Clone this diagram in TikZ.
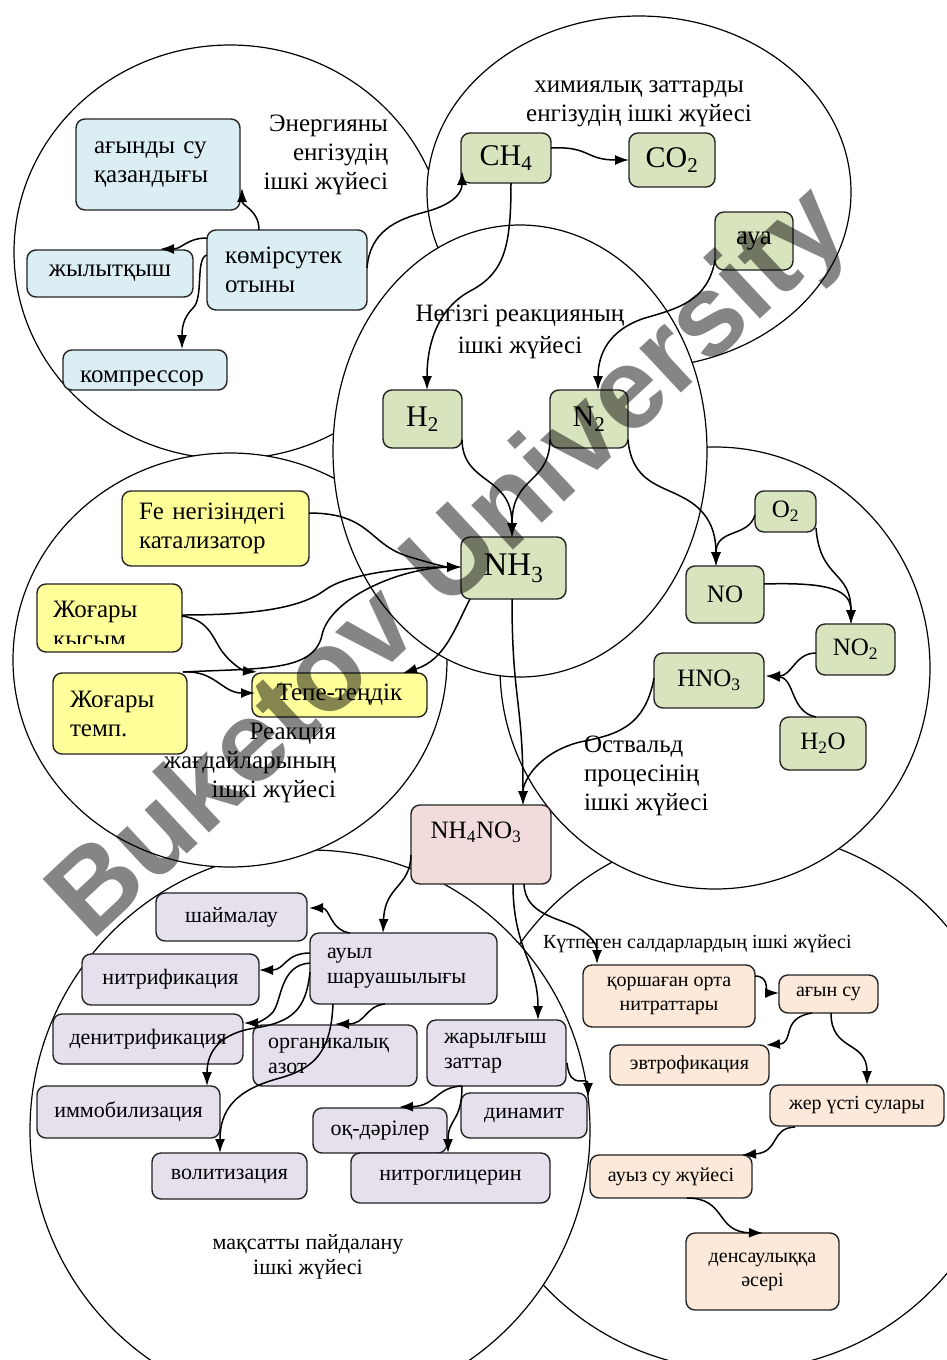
\documentclass[tikz,border=0pt]{standalone}
\usepackage{fontspec}
\setmainfont{Liberation Serif}
\newfontfamily\wmfont{Liberation Sans}
\usetikzlibrary{arrows.meta,calc}
\definecolor{blueF}{RGB}{219,238,244}
\definecolor{greenF}{RGB}{215,228,189}
\definecolor{yellowF}{RGB}{255,255,153}
\definecolor{pinkF}{RGB}{242,220,219}
\definecolor{purpF}{RGB}{229,224,236}
\definecolor{orangeF}{RGB}{253,233,217}
\definecolor{bcol}{RGB}{35,35,35}
\begin{document}
\begin{tikzpicture}[x=1pt,y=-1pt,
  bx/.style={draw=bcol, line width=1.4pt, rounded corners=9pt, outer sep=0pt, inner sep=0pt, align=center},
  fA/.style={font=\fontsize{25}{29}\selectfont},
  fC/.style={font=\fontsize{30}{34}\selectfont},
  fB/.style={font=\fontsize{22}{25}\selectfont},
  fS/.style={font=\fontsize{20}{24}\selectfont},
  arr/.style={-{Latex[length=14pt,width=10pt]}, line width=1.5pt},
  circ/.style={draw=black, fill=white, line width=1.2pt},
  lbl/.style={inner sep=0pt, outer sep=0pt}]
\useasboundingbox (0,0) rectangle (946,1360);
\fill[white] (0,0) rectangle (946,1360);
% ---------- circles (stacking order) ----------
\path[circ] (740,1100) circle [radius=270];
\path[circ] (310,1130) circle [radius=280];
\path[circ] (715,668) ellipse [x radius=215, y radius=221];
\path[circ] (230,252) ellipse [x radius=216, y radius=207];
\path[circ] (230,660) ellipse [x radius=217, y radius=207];
\path[circ] (639,192) ellipse [x radius=212, y radius=176];
\path[circ] (520,451) ellipse [x radius=187, y radius=226];
% ---------- energy subsystem ----------
\node[bx,fill=blueF,fA,minimum width=164pt,minimum height=91pt,align=left,text width=128pt] (agyn) at (158,164.5) {ағынды~су\\қазандығы};
\node[bx,fill=blueF,fA,minimum width=166pt,minimum height=47pt] (zhyl) at (110,273.5) {жылытқыш};
\node[bx,fill=blueF,fA,minimum width=160pt,minimum height=80pt,align=left,text width=124pt] (kom) at (287,270) {көмірсутек\\отыны};
\node[bx,fill=blueF,minimum width=164pt,minimum height=40pt] (kompr) at (145,370) {};
\begin{scope}
\clip ($(kompr.north west)+(1,1)$) rectangle ($(kompr.south east)+(-1,-5)$);
\node[fA,anchor=base,inner sep=0pt] (komprT) at ($(kompr.south)+(-3,-8)$) {компрессор};
\end{scope}
\node[lbl,fA,align=right,anchor=east] (L1) at (388,155) {Энергияны\\енгізудің\\ішкі жүйесі};
% ---------- chemicals subsystem ----------
\node[bx,fill=greenF,fC,minimum width=90pt,minimum height=50pt] (ch4) at (506,158) {CH\textsubscript{4}};
\node[bx,fill=greenF,fC,minimum width=86pt,minimum height=54pt] (co2) at (672,160) {CO\textsubscript{2}};
\node[bx,fill=greenF,font=\fontsize{27}{30}\selectfont,minimum width=78pt,minimum height=58pt] (aya) at (754,241) {ауа};
\node[lbl,fA,align=center] (L2) at (639,104) {химиялық заттарды\\енгізудің ішкі жүйесі};
% ---------- main reaction ----------
\node[bx,fill=greenF,fC,minimum width=79pt,minimum height=58pt] (h2) at (422.5,419) {H\textsubscript{2}};
\node[bx,fill=greenF,fC,minimum width=78pt,minimum height=58pt] (n2) at (589,419) {N\textsubscript{2}};
\node[bx,fill=greenF,font=\fontsize{33}{36}\selectfont,minimum width=105pt,minimum height=62pt] (nh3) at (513.5,568) {NH\textsubscript{3}};
\node[lbl,font=\fontsize{25}{32}\selectfont,align=center] (L3) at (520,332) {Негізгі реакцияның\\ішкі жүйесі};
% ---------- Ostwald ----------
\node[bx,fill=greenF,fA,minimum width=61pt,minimum height=41pt] (o2) at (785.5,511.5) {O\textsubscript{2}};
\node[bx,fill=greenF,fA,minimum width=78pt,minimum height=57pt] (no) at (725,594.5) {NO};
\node[bx,fill=greenF,fA,minimum width=79pt,minimum height=51pt] (no2) at (855.5,649.5) {NO\textsubscript{2}};
\node[bx,fill=greenF,fA,minimum width=110pt,minimum height=55pt] (hno3) at (709,680.5) {HNO\textsubscript{3}};
\node[bx,fill=greenF,fA,minimum width=86pt,minimum height=53pt] (h2o) at (823,743.5) {H\textsubscript{2}O};
\node[lbl,fA,align=left,anchor=west] (L5) at (584,776) {Оствальд\\процесінің\\ішкі жүйесі};
% ---------- reaction conditions ----------
\node[bx,fill=yellowF,fA,minimum width=187pt,minimum height=75pt,align=left,text width=153pt] (fe) at (215.5,528.5) {Fe~негізіндегі\\катализатор};
\node[bx,fill=yellowF,minimum width=145pt,minimum height=68pt] (kys) at (109.5,618) {};
\begin{scope}
\clip ($(kys.north west)+(1,1)$) rectangle ($(kys.south east)+(-1,-9)$);
\node[fA,align=left,anchor=north west,inner sep=0pt,font=\fontsize{25}{30}\selectfont] (kysT) at ($(kys.north west)+(16,17)$) {Жоғары\\қысым};
\end{scope}
\node[bx,fill=yellowF,fA,minimum width=134pt,minimum height=81pt,align=left,text width=100pt] (temp) at (120,713.5) {Жоғары\\темп.};
\node[bx,fill=yellowF,fA,minimum width=175pt,minimum height=44pt] (tepe) at (339.5,695) {Тепе-теңдік};
\node[lbl,fA,align=right,anchor=east] (L4) at (336,763) {Реакция\\жағдайларының\\ішкі жүйесі};
% ---------- NH4NO3 ----------
\node[bx,fill=pinkF,minimum width=140pt,minimum height=79pt] (nh4no3) at (481,844.5) {};
\node[lbl,fA] (nh4no3T) at (476,832) {NH\textsubscript{4}NO\textsubscript{3}};
% ---------- target use ----------
\node[bx,fill=purpF,fB,minimum width=151pt,minimum height=48pt] (shay) at (231.5,917) {шаймалау};
\node[bx,fill=purpF,fB,minimum width=187pt,minimum height=71pt,align=left,text width=153pt] (auyl) at (403.5,968.5) {ауыл\\шаруашылығы};
\node[bx,fill=purpF,fB,minimum width=177pt,minimum height=51pt] (nitr) at (170.5,979.5) {нитрификация};
\node[bx,fill=purpF,fB,minimum width=190pt,minimum height=50pt] (denitr) at (148,1039) {денитрификация};
\node[bx,fill=purpF,fB,minimum width=164pt,minimum height=61pt,align=left,text width=134pt] (organ) at (335,1055.5) {органикалық\\азот};
\node[bx,fill=purpF,fB,minimum width=139pt,minimum height=66pt,align=left,text width=105pt] (zhar) at (496.5,1053) {жарылғыш\\заттар};
\node[bx,fill=purpF,fB,minimum width=183pt,minimum height=52pt] (immob) at (128.5,1112) {иммобилизация};
\node[bx,fill=purpF,fB,minimum width=134pt,minimum height=45pt] (ok) at (380,1130.5) {оқ-дәрілер};
\node[bx,fill=purpF,fB,minimum width=126pt,minimum height=45pt] (dyn) at (524,1115.5) {динамит};
\node[bx,fill=purpF,fB,minimum width=155pt,minimum height=46pt] (vol) at (229.5,1176) {волитизация};
\node[bx,fill=purpF,fB,minimum width=199pt,minimum height=50pt] (nitrogl) at (450.5,1178) {нитроглицерин};
\node[lbl,fB,align=center] (L6) at (308,1257) {мақсатты пайдалану\\ішкі жүйесі};
% ---------- unexpected consequences ----------
\node[bx,fill=orangeF,fS,minimum width=172pt,minimum height=62pt] (korsh) at (669,996) {қоршаған орта\\нитраттары};
\node[bx,fill=orangeF,fS,minimum width=99pt,minimum height=38pt] (agyn2) at (828.5,994) {ағын су};
\node[bx,fill=orangeF,fS,minimum width=159pt,minimum height=40pt] (evtr) at (689.5,1065) {эвтрофикация};
\node[bx,fill=orangeF,fS,minimum width=174pt,minimum height=41pt] (zher) at (857,1105.5) {жер үсті сулары};
\node[bx,fill=orangeF,fS,minimum width=162pt,minimum height=43pt] (auyz) at (671,1176.5) {ауыз су жүйесі};
\node[bx,fill=orangeF,fS,minimum width=153pt,minimum height=77pt] (dens) at (762.5,1271.5) {денсаулыққа\\әсері};
\node[lbl,fS,anchor=west] (L7) at (543,944) {Күтпеген салдарлардың ішкі жүйесі};
% ---------- connectors ----------
\draw[arr] ($(kom.north west)+(52,0)$) .. controls (259,210) and (242,206) .. ($(agyn.south east)+(2,-22)$);
\draw[arr] ($(kom.north west)+(0,8)$) .. controls (187,238) and (182,249) .. ($(zhyl.north east)+(-33,-1)$);
\draw[arr] ($(kom.north west)+(0,25)$) .. controls (195,258) and (204,298) .. (193,308) .. controls (183,318) and (182,328) .. ($(kompr.north west)+(119,-1)$);
\draw[arr] ($(kom.south east)+(0,-42)$) .. controls (370,232) and (395,220) .. (425,212) .. controls (455,204) and (462,192) .. ($(ch4.south west)+(1,-12)$);
\draw[arr] ($(ch4.north east)+(0,15)$) .. controls (590,146) and (585,160) .. (co2.west);
\draw[arr] ($(ch4.south west)+(50,0)$) .. controls (511,245) and (505,272) .. (472,290) .. controls (437,308) and (427,345) .. ($(h2.north west)+(44,0)$);
\draw[arr] ($(aya.south west)+(0,-10)$) .. controls (708,300) and (680,308) .. (645,318) .. controls (608,330) and (598,355) .. ($(n2.north west)+(48,0)$);
\draw[arr] ($(h2.south east)+(0,-8)$) .. controls (463,485) and (512,475) .. ($(nh3.north west)+(51,0)$);
\draw[arr] ($(n2.south west)+(0,-8)$) .. controls (549,485) and (512,475) .. ($(nh3.north west)+(51,0)$);
\draw[arr] ($(n2.south east)+(0,-8)$) .. controls (632,482) and (660,485) .. (682,497) .. controls (708,510) and (716,530) .. ($(no.north west)+(30,0)$);
\draw[arr] ($(o2.south west)+(0,-17)$) .. controls (748,538) and (716,528) .. ($(no.north west)+(30,0)$);
\draw[arr] ($(o2.south east)+(0,-4)$) .. controls (820,580) and (851,570) .. ($(no2.north west)+(35,0)$);
\draw[arr] ($(no.north east)+(0,18)$) .. controls (830,582) and (851,590) .. ($(no2.north west)+(35,0)$);
\draw[arr] ($(no2.north west)+(0,29)$) .. controls (795,653) and (792,676) .. ($(hno3.north east)+(2,23)$);
\draw[arr] ($(h2o.north west)+(36,0)$) .. controls (790,712) and (795,678) .. ($(hno3.north east)+(2,23)$);
\draw[arr] ($(hno3.north west)+(0,25)$) .. controls (645,728) and (615,735) .. (580,742) .. controls (540,752) and (523,780) .. ($(nh4no3.north west)+(112,0)$);
\draw[arr] ($(nh3.south west)+(51,0)$) .. controls (512,700) and (523,700) .. ($(nh4no3.north west)+(112,0)$);
\draw[arr] ($(fe.north east)+(0,22)$) .. controls (372,513) and (368,545) .. (410,557) .. controls (430,563) and (445,567) .. ($(nh3.south west)+(0,-32)$);
\draw[arr] ($(kys.north east)+(0,31)$) .. controls (260,615) and (302,607) .. (325,590) .. controls (345,575) and (400,567) .. ($(nh3.south west)+(0,-32)$);
\draw[arr] ($(kys.north east)+(0,32)$) .. controls (212,620) and (213,642) .. (225,655) .. controls (235,667) and (245,671) .. ($(tepe.north west)+(5,-1)$);
\draw[arr] ($(temp.north east)+(-4,-1)$) .. controls (262,668) and (314,672) .. (322,635) .. controls (330,598) and (400,568) .. ($(nh3.south west)+(0,-32)$);
\draw[arr] ($(temp.north east)+(-4,-1)$) .. controls (215,670) and (222,693) .. ($(tepe.north west)+(3,20)$);
\draw[arr] ($(nh3.south west)+(9,0)$) .. controls (455,628) and (445,660) .. ($(tepe.north east)+(-24,0)$);
\draw[arr] ($(nh4no3.south west)+(0,-29)$) .. controls (410,888) and (385,885) .. ($(auyl.north west)+(73,0)$);
\draw[arr] ($(auyl.north west)+(40,0)$) .. controls (330,930) and (330,908) .. ($(shay.north east)+(2,15)$);
\draw[arr] ($(auyl.north west)+(0,20)$) .. controls (285,953) and (285,970) .. ($(nitr.north east)+(0,16)$);
\draw[arr] ($(auyl.north west)+(0,30)$) .. controls (280,965) and (282,1000) .. (273,1012) .. controls (266,1020) and (256,1023) .. ($(denitr.north east)+(1,9)$);
\draw[arr] ($(auyl.north west)+(0,39)$) .. controls (306,1010) and (292,1022) .. (255,1028) .. controls (222,1033) and (207,1050) .. ($(immob.north east)+(-13,0)$);
\draw[arr] ($(auyl.south west)+(23,0)$) .. controls (331,1050) and (316,1068) .. (280,1078) .. controls (235,1090) and (220,1110) .. ($(vol.north west)+(68,0)$);
\draw[arr] ($(auyl.south west)+(75,0)$) .. controls (365,1006) and (366,1024) .. ($(organ.north west)+(82,-1)$);
\draw[arr] ($(nh4no3.south west)+(102,0)$) .. controls (513,950) and (538,962) .. ($(zhar.north east)+(-28,0)$);
\draw[arr] ($(nh4no3.south west)+(113,0)$) .. controls (525,915) and (560,918) .. (578,928) .. controls (592,936) and (597,945) .. ($(korsh.north west)+(14,-1)$);
\draw[arr] ($(zhar.south west)+(35,0)$) .. controls (436,1087) and (436,1106) .. ($(ok.north east)+(-48,-1)$);
\draw[arr] ($(zhar.south west)+(35,0)$) .. controls (462,1122) and (448,1118) .. ($(nitrogl.north west)+(97,0)$);
\draw[arr] ($(zhar.north east)+(1,43)$) .. controls (570,1092) and (588,1075) .. ($(dyn.north east)+(1,4)$);
\draw[arr] ($(korsh.north east)+(0,11)$) .. controls (770,976) and (766,993) .. ($(agyn2.north west)+(0,18)$);
\draw[arr] ($(agyn2.south west)+(33,0)$) .. controls (780,1018) and (795,1043) .. ($(evtr.north east)+(-3,0)$);
\draw[arr] ($(agyn2.south west)+(52,0)$) .. controls (831,1052) and (867,1040) .. ($(zher.north west)+(97,0)$);
\draw[arr] ($(zher.south west)+(25,1)$) .. controls (770,1128) and (780,1152) .. ($(auyz.north east)+(-10,0)$);
\draw[arr] ($(auyz.south west)+(97,0)$) .. controls (727,1198) and (715,1232) .. ($(dens.north west)+(77,0)$);
% ---------- watermark ----------
\node[rotate=43, text=black, opacity=0.48, inner sep=0pt, font=\wmfont\bfseries\fontsize{115}{115}\selectfont] (wm) at (452,566) {Buketov University};
\end{tikzpicture}
\end{document}
